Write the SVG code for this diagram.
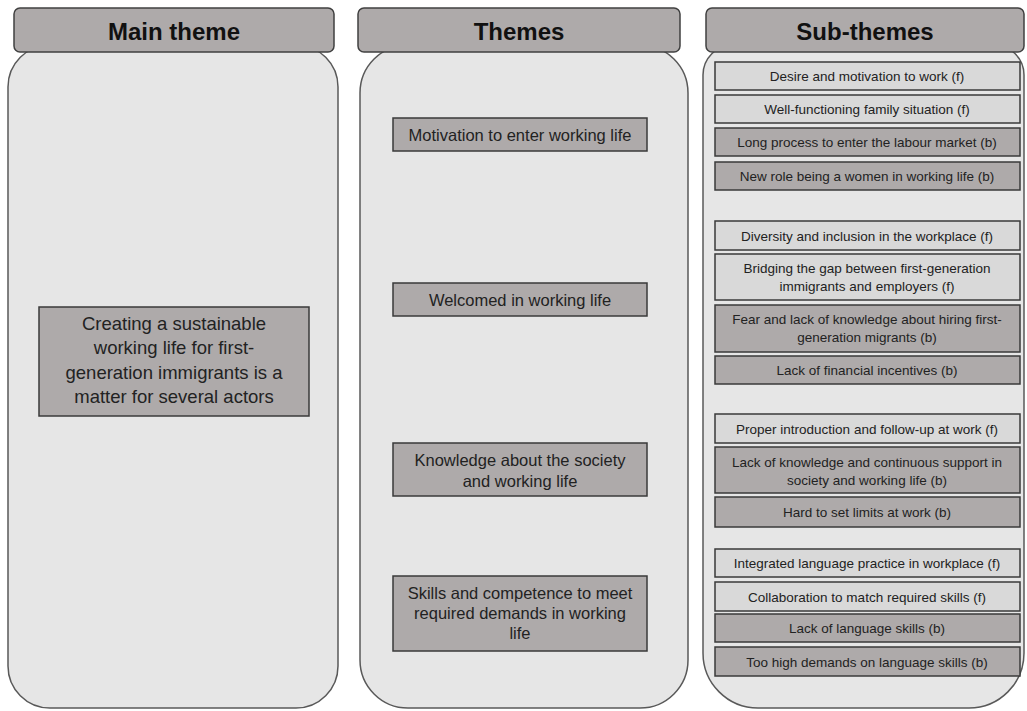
<svg xmlns="http://www.w3.org/2000/svg" width="1027" height="711" viewBox="0 0 1027 711">
<style>
.body{fill:#e6e6e6;stroke:#595959;stroke-width:1.5}
.hdr{fill:#aeaaaa;stroke:#404040;stroke-width:1.5}
.dk{fill:#aeaaaa;stroke:#3a3a3a;stroke-width:1.5}
.lt{fill:#d9d9d9;stroke:#3a3a3a;stroke-width:1.5}
text{font-family:"Liberation Sans",Arial,sans-serif;fill:#222;text-anchor:middle}
.ht{font-size:24px;font-weight:bold;fill:#111}
.mt{font-size:18.5px}
.tt{font-size:16.5px}
.st{font-size:13.5px}
</style>
<rect width="1027" height="711" fill="#ffffff"/>
<g id="col-main">
<rect class="body" x="8" y="45" width="330" height="663" rx="42"/>
<rect class="hdr" x="14" y="8" width="320" height="44" rx="6"/>
<text class="ht" x="174" y="40">Main theme</text>
</g>
<g id="col-themes">
<rect class="body" x="360" y="45" width="328" height="663" rx="48"/>
<rect class="hdr" x="358" y="8" width="322" height="44" rx="6"/>
<text class="ht" x="519" y="40">Themes</text>
</g>
<g id="col-subthemes">
<path class="body" d="M733,45 H994 A30,30 0 0 1 1024,75 V653 A55,55 0 0 1 969,708 H758 A55,55 0 0 1 703,653 V75 A30,30 0 0 1 733,45 Z"/>
<rect class="hdr" x="706" y="8" width="318" height="44" rx="6"/>
<text class="ht" x="865" y="40">Sub-themes</text>
</g>
<g id="main-theme">
<rect class="dk" x="39" y="307" width="270" height="109"/>
<text class="mt" x="174" y="329.5">Creating a sustainable</text>
<text class="mt" x="174" y="354">working life for first-</text>
<text class="mt" x="174" y="378.5">generation immigrants is a</text>
<text class="mt" x="174" y="403">matter for several actors</text>
</g>
<g id="theme-1">
<rect class="dk" x="393" y="118" width="254" height="33"/>
<text class="tt" x="520" y="140.5">Motivation to enter working life</text>
</g>
<g id="theme-2">
<rect class="dk" x="393" y="283" width="254" height="33"/>
<text class="tt" x="520" y="305.5">Welcomed in working life</text>
</g>
<g id="theme-3">
<rect class="dk" x="393" y="443" width="254" height="53"/>
<text class="tt" x="520" y="465.5">Knowledge about the society</text>
<text class="tt" x="520" y="486.5">and working life</text>
</g>
<g id="theme-4">
<rect class="dk" x="393" y="576" width="254" height="75"/>
<text class="tt" x="520" y="598.5">Skills and competence to meet</text>
<text class="tt" x="520" y="618.5">required demands in working</text>
<text class="tt" x="520" y="638.5">life</text>
</g>
<g id="sub-1"><rect class="lt" x="715" y="62" width="305" height="28"/><text class="st" x="867" y="81">Desire and motivation to work (f)</text></g>
<g id="sub-2"><rect class="lt" x="715" y="95" width="305" height="28"/><text class="st" x="867" y="114">Well-functioning family situation (f)</text></g>
<g id="sub-3"><rect class="dk" x="715" y="128" width="305" height="28"/><text class="st" x="867" y="147">Long process to enter the  labour market (b)</text></g>
<g id="sub-4"><rect class="dk" x="715" y="162" width="305" height="28"/><text class="st" x="867" y="181">New  role being a women  in working life (b)</text></g>
<g id="sub-5"><rect class="lt" x="715" y="221" width="305" height="29"/><text class="st" x="867" y="240.5">Diversity and inclusion in the workplace (f)</text></g>
<g id="sub-6"><rect class="lt" x="715" y="254" width="305" height="46"/><text class="st" x="867" y="273">Bridging the  gap between  first-generation</text><text class="st" x="867" y="291">immigrants and employers (f)</text></g>
<g id="sub-7"><rect class="dk" x="715" y="305" width="305" height="47"/><text class="st" x="867" y="324">Fear and lack of knowledge  about hiring first-</text><text class="st" x="867" y="342">generation migrants (b)</text></g>
<g id="sub-8"><rect class="dk" x="715" y="356" width="305" height="28"/><text class="st" x="867" y="375">Lack of financial incentives (b)</text></g>
<g id="sub-9"><rect class="lt" x="715" y="414" width="305" height="29"/><text class="st" x="867" y="433.5">Proper introduction and follow-up at work (f)</text></g>
<g id="sub-10"><rect class="dk" x="715" y="447" width="305" height="46"/><text class="st" x="867" y="467">Lack of knowledge  and continuous support in</text><text class="st" x="867" y="485">society and working life (b)</text></g>
<g id="sub-11"><rect class="dk" x="715" y="497" width="305" height="30"/><text class="st" x="867" y="517">Hard to  set limits at work (b)</text></g>
<g id="sub-12"><rect class="lt" x="715" y="549" width="305" height="28"/><text class="st" x="867" y="568">Integrated  language practice in workplace (f)</text></g>
<g id="sub-13"><rect class="lt" x="715" y="582" width="305" height="29"/><text class="st" x="867" y="601.5">Collaboration to match required skills (f)</text></g>
<g id="sub-14"><rect class="dk" x="715" y="614" width="305" height="28"/><text class="st" x="867" y="633">Lack of language skills (b)</text></g>
<g id="sub-15"><rect class="dk" x="715" y="647" width="305" height="29"/><text class="st" x="867" y="666.5">Too high demands on language skills (b)</text></g>
<g id="connectors"></g>
</svg>
